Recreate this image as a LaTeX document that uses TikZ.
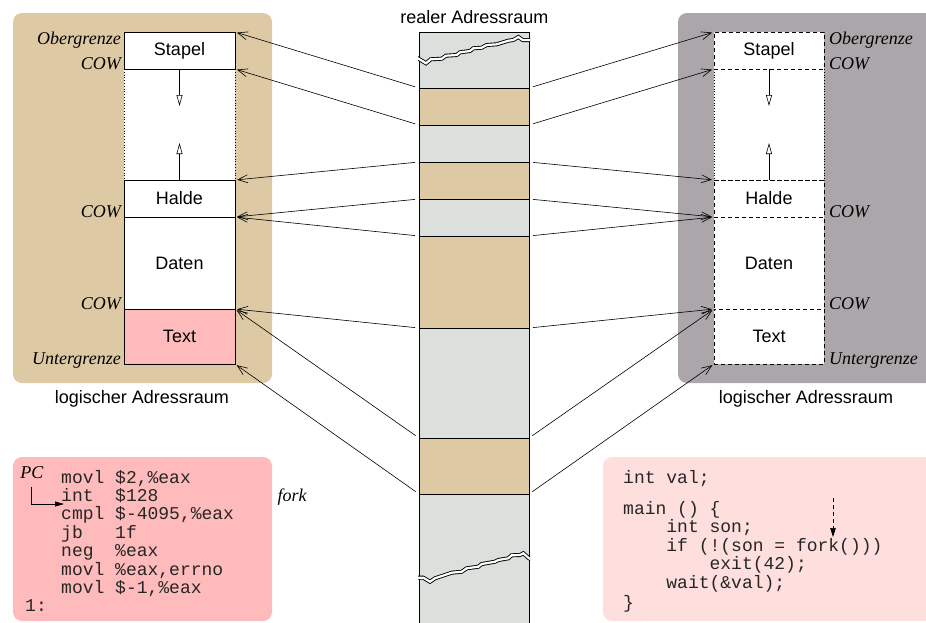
\documentclass[tikz,border=0pt]{standalone}
\usepackage{fontspec}
\setmainfont{Liberation Serif}
\setsansfont{Liberation Sans}
\setmonofont{Liberation Mono}
\usetikzlibrary{arrows.meta}
\definecolor{tanc}{RGB}{221,201,163}
\definecolor{colgray}{RGB}{220,224,220}
\definecolor{panelgray}{RGB}{171,166,169}
\definecolor{pinkc}{RGB}{255,187,187}
\definecolor{lightpink}{RGB}{255,222,222}
\begin{document}
\begin{tikzpicture}[x=1pt,y=-1pt,
 sans/.style={font=\sffamily\fontsize{18}{20}\selectfont},
 lab/.style={font=\rmfamily\itshape\fontsize{18}{20}\selectfont, inner sep=0pt},
 code/.style={font=\ttfamily\fontsize{18}{20}\selectfont, inner sep=0pt, anchor=base west, text=black!85},
 seg/.style={minimum width=111pt, inner sep=0pt, outer sep=0pt, sans, fill=white, line width=0.8pt},
 rseg/.style={seg, minimum width=110pt, draw, dash pattern=on 4pt off 3pt},
 band/.style={minimum width=110pt, inner sep=0pt, outer sep=0pt, draw=black, line width=0.8pt},
 conn/.style={-{Straight Barb[length=10pt,width=8pt]}, line width=0.6pt, shorten <=4pt, shorten >=2pt},
 growarrow/.style={-{Triangle[open,length=11pt,width=6pt]}, line width=0.6pt},
 gapside/.style={dotted, line width=0.8pt},
]
\useasboundingbox (0,0) rectangle (926,622);
\clip (0,0) rectangle (926,622);
% panels
\fill[tanc, rounded corners=9pt] (13,13) rectangle (272,383);
\fill[panelgray, rounded corners=9pt] (678,13) rectangle (950,383);
\fill[pinkc, rounded corners=9pt] (13,457) rectangle (272,621);
\fill[lightpink, rounded corners=9pt] (603,457) rectangle (950,621);

% left logical address space
\node[seg, draw, minimum height=37pt] (lstapel) at (179.5,50.5) {Stapel};
\node[seg, draw, minimum height=37pt] (lhalde) at (179.5,198.5) {Halde};
\node[seg, draw, minimum height=92pt] (ldaten) at (179.5,263) {Daten};
\node[seg, draw, minimum height=55pt, fill=pinkc] (ltext) at (179.5,336.5) {Text};
\fill[white] (lstapel.south west) rectangle (lhalde.north east);
\draw[gapside] (lstapel.south west) -- (lhalde.north west);
\draw[gapside] (lstapel.south east) -- (lhalde.north east);
\draw[line width=0.8pt] (lstapel.south west) -- (lstapel.south east);
\draw[line width=0.8pt] (lhalde.north west) -- (lhalde.north east);
\coordinate (ldown) at (179.5,106);
\coordinate (lup) at (179.5,143);
\draw[growarrow] (lstapel.south) -- (ldown);
\draw[growarrow] (lhalde.north) -- (lup);

% right logical address space
\node[rseg, minimum height=37pt] (rstapel) at (769,50.5) {Stapel};
\node[rseg, minimum height=37pt] (rhalde) at (769,198.5) {Halde};
\node[rseg, minimum height=92pt] (rdaten) at (769,263) {Daten};
\node[rseg, minimum height=55pt] (rtext) at (769,336.5) {Text};
\fill[white] (rstapel.south west) rectangle (rhalde.north east);
\draw[gapside] (rstapel.south west) -- (rhalde.north west);
\draw[gapside] (rstapel.south east) -- (rhalde.north east);
\draw[line width=0.8pt, dash pattern=on 4pt off 3pt] (rstapel.south west) -- (rstapel.south east);
\draw[line width=0.8pt, dash pattern=on 4pt off 3pt] (rhalde.north west) -- (rhalde.north east);
\coordinate (rdown) at (769,106);
\coordinate (rup) at (769,143);
\draw[growarrow] (rstapel.south) -- (rdown);
\draw[growarrow] (rhalde.north) -- (rup);

% real address space column
\fill[colgray] (419,32) rectangle (529,640);
\draw[line width=0.8pt] (419,640) -- (419,32) -- (529,32) -- (529,640);
\node[band, fill=tanc, minimum height=37pt] (b1) at (474,106.5) {};
\node[band, fill=colgray, minimum height=37pt] (b2) at (474,143.5) {};
\node[band, fill=tanc, minimum height=37pt] (b3) at (474,180.5) {};
\node[band, fill=colgray, minimum height=37pt] (b4) at (474,217.5) {};
\node[band, fill=tanc, minimum height=92pt] (b5) at (474,282) {};
\node[band, fill=colgray, minimum height=110pt] (b6) at (474,383) {};
\node[band, fill=tanc, minimum height=56pt] (b7) at (474,466) {};
\begin{scope}
\clip (418,32) rectangle (530,640);
\draw[line width=4pt] plot coordinates {(412,55) (419,59) (426,63.3) (430.7,59.3) (441.7,58.7) (446,55.7) (456.7,55) (460,52.3) (470,51) (473.3,48.3) (481.7,47.7) (486.7,45) (496.7,44.3) (508.3,40.7) (513.3,40) (518.3,37) (522.7,40) (535,40)};
\draw[white, line width=2.2pt] plot coordinates {(412,55) (419,59) (426,63.3) (430.7,59.3) (441.7,58.7) (446,55.7) (456.7,55) (460,52.3) (470,51) (473.3,48.3) (481.7,47.7) (486.7,45) (496.7,44.3) (508.3,40.7) (513.3,40) (518.3,37) (522.7,40) (535,40)};
\draw[line width=4pt] plot coordinates {(412,577.7) (423.3,577.7) (430,581.7) (435,578.3) (451.7,572.7) (461.7,571.7) (466.7,568.3) (478.3,566.7) (481.7,564) (495,561.7) (498.3,560) (508.3,558.3) (511.7,555.3) (520,555) (523.3,553.3) (529,558.3) (536,561)};
\draw[white, line width=2.2pt] plot coordinates {(412,577.7) (423.3,577.7) (430,581.7) (435,578.3) (451.7,572.7) (461.7,571.7) (466.7,568.3) (478.3,566.7) (481.7,564) (495,561.7) (498.3,560) (508.3,558.3) (511.7,555.3) (520,555) (523.3,553.3) (529,558.3) (536,561)};
\end{scope}
\node[sans, anchor=base] (real) at (474.5,23) {realer Adressraum};

% connectors left
\draw[conn] (b1.north west) -- (lstapel.north east);
\draw[conn] (b1.south west) -- (lstapel.south east);
\draw[conn] (b3.north west) -- (lhalde.north east);
\draw[conn] (b3.south west) -- (lhalde.south east);
\draw[conn] (b5.north west) -- (lhalde.south east);
\draw[conn] (b5.south west) -- (ltext.north east);
\draw[conn] (b7.north west) -- (ltext.north east);
\draw[conn] (b7.south west) -- (ltext.south east);
% connectors right
\draw[conn] (b1.north east) -- (rstapel.north west);
\draw[conn] (b1.south east) -- (rstapel.south west);
\draw[conn] (b3.north east) -- (rhalde.north west);
\draw[conn] (b3.south east) -- (rhalde.south west);
\draw[conn] (b5.north east) -- (rhalde.south west);
\draw[conn] (b5.south east) -- (rtext.north west);
\draw[conn] (b7.north east) -- (rtext.north west);
\draw[conn] (b7.south east) -- (rtext.south west);

% labels left
\node[lab, anchor=north east] (lob) at (121,32) {Obergrenze};
\node[lab, anchor=base east] (lc1) at (121,69) {COW};
\node[lab, anchor=base east] (lc2) at (121,217) {COW};
\node[lab, anchor=base east] (lc3) at (121,309) {COW};
\node[lab, anchor=base east] (lug) at (121,364) {Untergrenze};
% labels right
\node[lab, anchor=north west] (rob) at (829,32) {Obergrenze};
\node[lab, anchor=base west] (rc1) at (829,69) {COW};
\node[lab, anchor=base west] (rc2) at (829,217) {COW};
\node[lab, anchor=base west] (rc3) at (829,309) {COW};
\node[lab, anchor=base west] (rug) at (829,364) {Untergrenze};

\node[sans, anchor=base] (llog) at (142,403) {logischer Adressraum};
\node[sans, anchor=base] (rlog) at (806,403) {logischer Adressraum};

% left code
\node[code] (c1) at (61,483) {movl \$2,\%eax};
\node[code] (c2) at (61,501.4) {int\ \ \$128};
\node[code] (c3) at (61,519.8) {cmpl \$-4095,\%eax};
\node[code] (c4) at (61,538.2) {jb\ \ \ 1f};
\node[code] (c5) at (61,556.6) {neg\ \ \%eax};
\node[code] (c6) at (61,575) {movl \%eax,errno};
\node[code] (c7) at (61,593.4) {movl \$-1,\%eax};
\node[code] (c8) at (25,611.8) {1:};
\node[lab, anchor=base] (pc) at (32,478) {PC};
\coordinate (pcA) at (31,487);
\coordinate (pcB) at (64,504);
\draw[line width=0.7pt, -{Triangle[length=9pt,width=5pt]}] (pcA) |- (pcB);
\node[lab, anchor=base] (fork) at (292,501) {fork};

% right code
\node[code] (r1) at (623,483) {int val;};
\node[code] (r2) at (623,514) {main () \{};
\node[code] (r3) at (623,532.5) {\ \ \ \ int son;};
\node[code] (r4) at (623,551) {\ \ \ \ if (!(son = fork()))};
\node[code] (r5) at (623,569.5) {\ \ \ \ \ \ \ \ exit(42);};
\node[code] (r6) at (623,588) {\ \ \ \ wait(\&val);};
\node[code] (r7) at (623,608) {\}};
\coordinate (da1) at (833,498);
\coordinate (da2) at (833,537);
\draw[line width=0.7pt, dash pattern=on 4pt off 3pt, -{Triangle[length=9pt,width=5.5pt]}] (da1) -- (da2);
\end{tikzpicture}
\end{document}
